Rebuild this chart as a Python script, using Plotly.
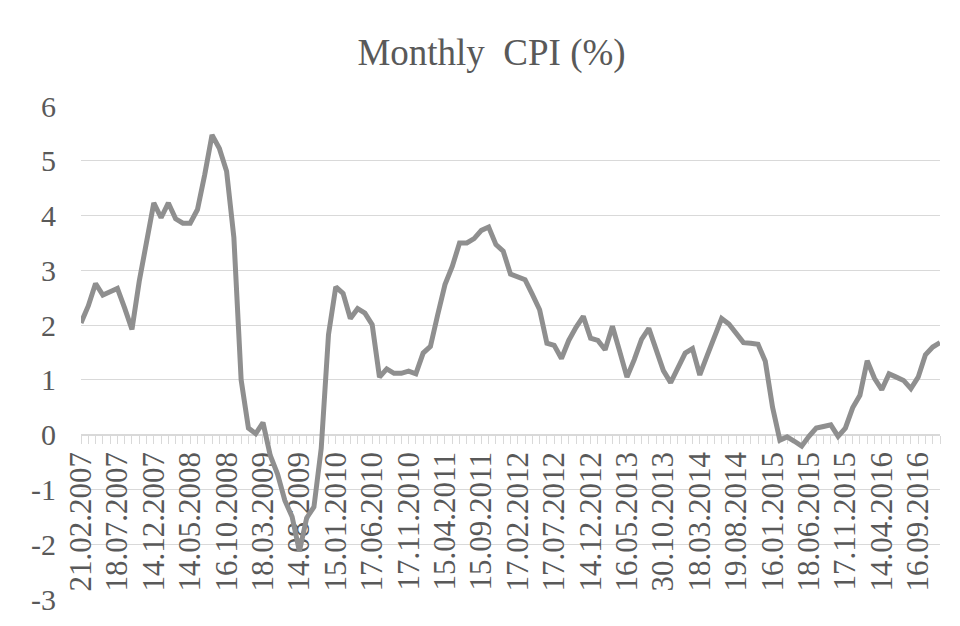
import plotly.graph_objects as go

# Monthly CPI (%) values, Feb 2007 .. Dec 2016 (one value per month)
cpi_values = [
    2.04, 2.35, 2.76, 2.55, 2.61, 2.67, 2.31, 1.92, 2.80, 3.47,
    4.23, 3.96, 4.23, 3.94, 3.86, 3.86, 4.11, 4.75, 5.47, 5.23,
    4.81, 3.60, 1.00, 0.12, 0.02, 0.22, -0.38, -0.72, -1.20, -1.50,
    -2.13, -1.52, -1.32, -0.25, 1.83, 2.70, 2.58, 2.12, 2.30, 2.22,
    2.01, 1.05, 1.20, 1.12, 1.12, 1.16, 1.11, 1.49, 1.61, 2.19,
    2.74, 3.07, 3.50, 3.50, 3.58, 3.73, 3.79, 3.47, 3.35, 2.93,
    2.89, 2.83, 2.56, 2.28, 1.67, 1.63, 1.39, 1.72, 1.96, 2.16,
    1.76, 1.72, 1.55, 1.98, 1.52, 1.05, 1.37, 1.74, 1.94, 1.52,
    1.17, 0.95, 1.20, 1.49, 1.57, 1.09, 1.44, 1.79, 2.12, 2.02,
    1.85, 1.68, 1.67, 1.65, 1.34, 0.50, -0.10, -0.04, -0.12, -0.21,
    -0.03, 0.12, 0.15, 0.18, -0.03, 0.12, 0.49, 0.72, 1.35, 1.03,
    0.82, 1.11, 1.05, 0.99, 0.84, 1.05, 1.46, 1.60, 1.68,
]

# Tick labels shown every 5th month
tick_labels = [
    "21.02.2007", "18.07.2007", "14.12.2007", "14.05.2008", "16.10.2008",
    "18.03.2009", "14.08.2009", "15.01.2010", "17.06.2010", "17.11.2010",
    "15.04.2011", "15.09.2011", "17.02.2012", "17.07.2012", "14.12.2012",
    "16.05.2013", "30.10.2013", "18.03.2014", "19.08.2014", "16.01.2015",
    "18.06.2015", "17.11.2015", "14.04.2016", "16.09.2016",
]
label_step = 5

y_ticks = [-3, -2, -1, 0, 1, 2, 3, 4, 5, 6]
y_tick_text = ["-3", "-2", "-1", "0", "1", "2", "3", "4", "5", "6"]

title_text = "Monthly  CPI (%)"

x_idx = list(range(len(cpi_values)))
tick_vals = [i * label_step for i in range(len(tick_labels))]

FONT = "Liberation Serif, Times New Roman, serif"
TXT = "#595959"
GRID = "#d9d9d9"

fig = go.Figure()
fig.add_trace(go.Scatter(
    x=x_idx, y=cpi_values, mode="lines",
    line=dict(color="#8f8f8f", width=5),
    hoverinfo="skip", showlegend=False,
))

ymin, ymax = y_ticks[0], y_ticks[-1]
fig.update_layout(
    width=960, height=626,
    margin=dict(l=73, r=28, t=98, b=35, autoexpand=False),
    paper_bgcolor="white", plot_bgcolor="white",
    font=dict(family=FONT, color=TXT),
    title=dict(text=title_text, x=483.5 / 960, xanchor="center",
               y=1 - 44 / 626, yanchor="middle",
               font=dict(family=FONT, size=37, color=TXT)),
    showlegend=False,
    xaxis=dict(
        range=[0, len(cpi_values) - 1],
        anchor="free", position=(0 - ymin) / (ymax - ymin),
        automargin=False,
        tickmode="array", tickvals=tick_vals, ticktext=tick_labels,
        tickangle=-90, tickfont=dict(family=FONT, size=31, color=TXT),
        ticks="outside", ticklen=8, tickcolor=GRID, tickwidth=1,
        ticklabelstandoff=-4,
        showline=True, linecolor=GRID, linewidth=1,
        showgrid=False, zeroline=False,
        minor=dict(tickmode="linear", tick0=0, dtick=1, ticks="outside",
                   ticklen=8, tickcolor=GRID, tickwidth=1, showgrid=False),
        layer="below traces",
    ),
    yaxis=dict(
        range=[ymin, ymax], tickmode="array", tickvals=y_ticks,
        ticktext=y_tick_text, automargin=False,
        showgrid=True, gridcolor=GRID, gridwidth=1.3,
        zeroline=False, showline=False,
        tickfont=dict(family=FONT, size=30, color=TXT),
        ticklabelstandoff=24,
    ),
)

fig.write_html("out.html")
